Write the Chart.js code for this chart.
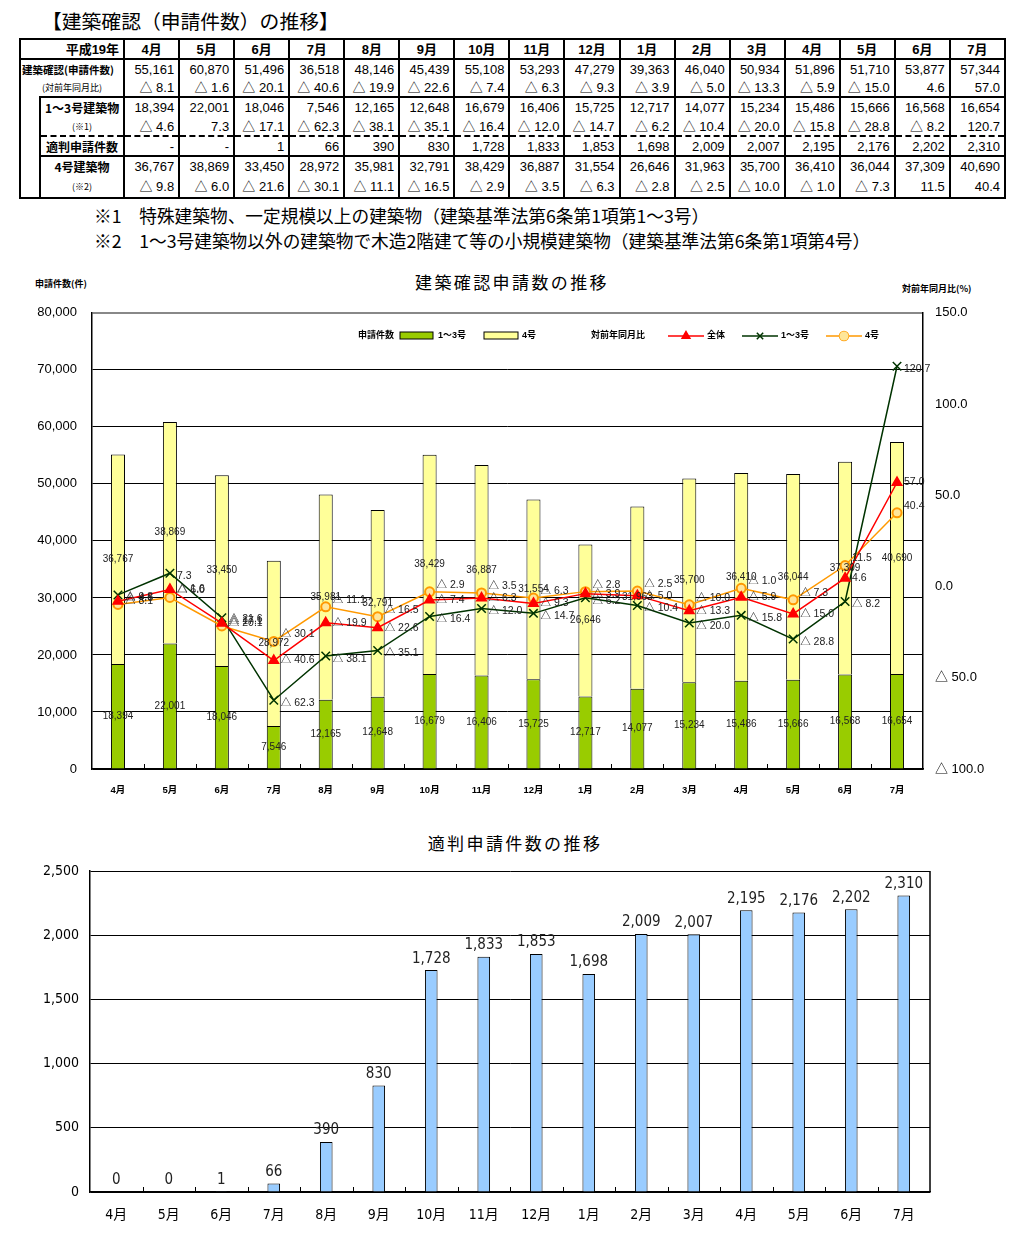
<!DOCTYPE html>
<html lang="ja">
<head>
<meta charset="utf-8">
<script src="https://cdn.jsdelivr.net/npm/chart.js"></script>
<style>
  body { margin: 0; background: #fff; font-family: "Liberation Sans", "Noto Sans CJK JP", sans-serif; }
  #page { position: relative; width: 1022px; height: 1245px; overflow: hidden; }
  .abs { position: absolute; white-space: nowrap; }
  #mainTitle { left: 42px; top: 9px; font-size: 19.8px; line-height: 24px; font-family: "Noto Sans CJK JP", sans-serif; }
  #tbl { position: absolute; left: 19px; top: 38px; width: 987px; border-collapse: collapse; table-layout: fixed; border: 2px solid #000; }
  #tbl td { padding: 0 4px; font-size: 13px; line-height: 15px; text-align: right; border-left: 2px solid #000; border-right: 2px solid #000; white-space: nowrap; overflow: hidden; }
  #tbl .hd td { font-weight: bold; text-align: center; border-bottom: 2px solid #000; }
  #tbl .hd td.yr { text-align: right; }
  #tbl td.lb { text-align: center; font-family: "Noto Sans CJK JP", sans-serif; font-weight: bold; font-size: 12px; padding: 0; }
  #tbl td.sm { font-size: 9px; font-weight: normal; }
  #tbl td.lb2 { font-size: 10.5px; text-align: left; padding-left: 1px; }
  #tbl .thick td { border-bottom: 2px solid #000; }
  #tbl .dash td { border-bottom: 2px dashed #000; }
  #tbl td.indent { border-top: hidden; }
  .note { left: 94px; font-size: 17.7px; line-height: 18px; font-family: "Noto Sans CJK JP", sans-serif; }
  .ctitle { font-family: "Noto Sans CJK JP", sans-serif; font-size: 17px; letter-spacing: 2.4px; transform: translateX(-50%); }
  .axlab { font-family: "Noto Sans CJK JP", sans-serif; font-size: 9px; font-weight: bold; }
  canvas { position: absolute; left: 0; }
</style>
</head>
<body>
<div id="page">
  <div id="mainTitle" class="abs">【建築確認（申請件数）の推移】</div>
  <table id="tbl"></table>
  <div class="abs note" style="top:206px">※1　特殊建築物、一定規模以上の建築物（建築基準法第6条第1項第1～3号）</div>
  <div class="abs note" style="top:231px">※2　1～3号建築物以外の建築物で木造2階建て等の小規模建築物（建築基準法第6条第1項第4号）</div>

  <div class="abs axlab" style="left:35px; top:277px">申請件数(件)</div>
  <div class="abs ctitle" style="left:512px; top:269px">建築確認申請数の推移</div>
  <div class="abs axlab" style="left:902px; top:282px">対前年同月比(%)</div>
  <canvas id="chart1" width="1022" height="510" style="top:290px"></canvas>

  <div class="abs ctitle" style="left:515px; top:830px">適判申請件数の推移</div>
  <canvas id="chart2" width="1022" height="390" style="top:850px"></canvas>
</div>
<script>
const months = ["4月", "5月", "6月", "7月", "8月", "9月", "10月", "11月", "12月", "1月", "2月", "3月", "4月", "5月", "6月", "7月"];
const totalApps = [55161, 60870, 51496, 36518, 48146, 45439, 55108, 53293, 47279, 39363, 46040, 50934, 51896, 51710, 53877, 57344];
const totalYoY = [-8.1, -1.6, -20.1, -40.6, -19.9, -22.6, -7.4, -6.3, -9.3, -3.9, -5.0, -13.3, -5.9, -15.0, 4.6, 57.0];
const class13 = [18394, 22001, 18046, 7546, 12165, 12648, 16679, 16406, 15725, 12717, 14077, 15234, 15486, 15666, 16568, 16654];
const class13YoY = [-4.6, 7.3, -17.1, -62.3, -38.1, -35.1, -16.4, -12.0, -14.7, -6.2, -10.4, -20.0, -15.8, -28.8, -8.2, 120.7];
const tekihan = [0, 0, 1, 66, 390, 830, 1728, 1833, 1853, 1698, 2009, 2007, 2195, 2176, 2202, 2310];
const class4 = [36767, 38869, 33450, 28972, 35981, 32791, 38429, 36887, 31554, 26646, 31963, 35700, 36410, 36044, 37309, 40690];
const class4YoY = [-9.8, -6.0, -21.6, -30.1, -11.1, -16.5, -2.9, -3.5, -6.3, -2.8, -2.5, -10.0, -1.0, -7.3, 11.5, 40.4];

const FONT = "'Liberation Sans', 'Noto Sans CJK JP', sans-serif";
const NARROW = "'Liberation Sans Narrow', 'DejaVu Sans Condensed', 'Noto Sans CJK JP', sans-serif";

function fmtNum(v) {
  return v.toLocaleString("en-US");
}
function fmtPct(v) {
  return v < 0 ? "△ " + Math.abs(v).toFixed(1) : v.toFixed(1);
}

// table
function buildTable() {
  const tbl = document.getElementById("tbl");
  let html = `<colgroup><col style="width:20px"><col style="width:84px">`;
  months.forEach(() => (html += `<col style="width:55px">`));
  html += `</colgroup>`;
  const cells = (arr, f) => arr.map((v) => `<td>${f(v)}</td>`).join("");

  html += `<tr class="hd" style="height:20px"><td colspan="2" class="yr">平成19年</td>${months.map((m) => `<td>${m}</td>`).join("")}</tr>`;
  html += `<tr style="height:19px"><td colspan="2" class="lb lb2">建築確認(申請件数)</td>${cells(totalApps, fmtNum)}</tr>`;
  html += `<tr class="thick" style="height:19px"><td colspan="2" class="lb sm">(対前年同月比)</td>${cells(totalYoY, fmtPct)}</tr>`;
  html += `<tr style="height:20px"><td rowspan="5" class="indent"></td><td class="lb">1～3号建築物</td>${cells(class13, fmtNum)}</tr>`;
  html += `<tr class="dash" style="height:19px"><td class="lb sm">(※1)</td>${cells(class13YoY, fmtPct)}</tr>`;
  html += `<tr class="thick" style="height:20px"><td class="lb">適判申請件数</td>${cells(tekihan, (v) => (v === 0 ? "-" : fmtNum(v)))}</tr>`;
  html += `<tr style="height:20px"><td class="lb">4号建築物</td>${cells(class4, fmtNum)}</tr>`;
  html += `<tr style="height:22px"><td class="lb sm">(※2)</td>${cells(class4YoY, fmtPct)}</tr>`;
  tbl.innerHTML = html;
}
buildTable();

// labels on bars and points
const valueLabels = {
  id: "valueLabels",
  afterDatasetsDraw(chart) {
    const c = chart.ctx;
    c.save();
    chart.data.datasets.forEach((ds, di) => {
      const meta = chart.getDatasetMeta(di);
      if (!ds.labelMode) return;
      meta.data.forEach((el, i) => {
        const v = ds.data[i];
        c.fillStyle = "#222";
        if (ds.labelMode === "center") {
          c.font = "10px " + FONT;
          c.textAlign = "center";
          c.textBaseline = "middle";
          c.fillText(fmtNum(v), el.x, (el.y + el.base) / 2);
        } else if (ds.labelMode === "top") {
          c.font = "15px " + NARROW;
          c.textAlign = "center";
          c.textBaseline = "bottom";
          c.fillText(fmtNum(v), el.x, el.y - 4);
        } else {
          c.font = "10.5px " + FONT;
          c.textAlign = "left";
          c.textBaseline = "middle";
          c.fillText(fmtPct(v), el.x + 7, el.y + (ds.labelDy || 0));
        }
      });
    });
    c.restore();
  },
};

// small tick marks between categories, pointing up into the plot
const categoryTicks = {
  id: "categoryTicks",
  afterDraw(chart) {
    const a = chart.chartArea;
    const n = chart.data.labels.length;
    const w = (a.right - a.left) / n;
    const c = chart.ctx;
    c.save();
    c.strokeStyle = "#000";
    c.lineWidth = 1;
    c.beginPath();
    for (let i = 1; i < n; i++) {
      const x = Math.round(a.left + w * i) + 0.5;
      c.moveTo(x, a.bottom);
      c.lineTo(x, a.bottom - 5);
    }
    c.stroke();
    c.restore();
  },
};

// legend inside the first chart
const innerLegend = {
  id: "innerLegend",
  afterDraw(chart) {
    const c = chart.ctx;
    const y = 46;
    c.save();
    c.font = "bold 9px " + FONT;
    c.fillStyle = "#000";
    c.textBaseline = "middle";
    c.textAlign = "left";
    c.fillText("申請件数", 358, y);
    c.fillStyle = "#99cc00";
    c.fillRect(400, y - 4, 33, 7);
    c.strokeStyle = "#000";
    c.lineWidth = 1;
    c.strokeRect(400, y - 4, 33, 7);
    c.fillStyle = "#000";
    c.fillText("1～3号", 438, y);
    c.fillStyle = "#ffff99";
    c.fillRect(484, y - 4, 34, 7);
    c.strokeRect(484, y - 4, 34, 7);
    c.fillStyle = "#000";
    c.fillText("4号", 522, y);
    c.fillText("対前年同月比", 591, y);
    const lines = [
      [668, "#ff0000", "triangle", "全体"],
      [742, "#003300", "crossRot", "1～3号"],
      [826, "#ff9900", "circle", "4号"],
    ];
    lines.forEach(([x, col, style, txt]) => {
      c.strokeStyle = col;
      c.lineWidth = 1.5;
      c.beginPath();
      c.moveTo(x, y);
      c.lineTo(x + 36, y);
      c.stroke();
      c.fillStyle = style === "circle" ? "#ffe699" : col;
      Chart.helpers.drawPoint(c, { pointStyle: style, radius: 4.5, borderWidth: 1.5, rotation: 0 }, x + 18, y);
      if (style !== "crossRot") c.fill();
      c.fillStyle = "#000";
      c.fillText(txt, x + 39, y);
    });
    c.restore();
  },
};

const lineDefaults = { type: "line", yAxisID: "y1", borderWidth: 1.5, pointRadius: 5, pointBorderWidth: 1.5, labelMode: "right", order: 1 };

new Chart(document.getElementById("chart1"), {
  type: "bar",
  data: {
    labels: months,
    datasets: [
      { ...lineDefaults, label: "全体", data: totalYoY, borderColor: "#ff0000", backgroundColor: "#ff0000", pointStyle: "triangle", pointRadius: 5.5, labelDy: 0 },
      { ...lineDefaults, label: "1～3号", data: class13YoY, borderColor: "#003300", backgroundColor: "#003300", pointStyle: "crossRot", pointRadius: 6, labelDy: 3 },
      { ...lineDefaults, label: "4号", data: class4YoY, borderColor: "#ff9900", backgroundColor: "#ffe699", pointStyle: "circle", pointRadius: 4.5, pointBorderWidth: 2, labelDy: -7 },
      { label: "1～3号", data: class13, backgroundColor: "#99cc00", borderColor: "#000", borderWidth: 1, barPercentage: 0.27, categoryPercentage: 1, labelMode: "center", order: 2 },
      { label: "4号", data: class4, backgroundColor: "#ffff99", borderColor: "#000", borderWidth: 1, barPercentage: 0.27, categoryPercentage: 1, labelMode: "center", order: 2 },
    ],
  },
  options: {
    responsive: false,
    animation: false,
    layout: { padding: { top: 2, left: 0, right: 0, bottom: 0 } },
    plugins: { legend: { display: false }, tooltip: { enabled: false } },
    scales: {
      x: {
        stacked: true,
        grid: { display: false },
        border: { color: "#000", width: 1.5 },
        ticks: { color: "#000", font: { size: 9.5, weight: "bold", family: FONT }, padding: 8 },
        afterFit(s) { s.height = 31; },
      },
      y: {
        stacked: true,
        min: 0,
        max: 80000,
        ticks: { stepSize: 10000, color: "#000", padding: 15, font: { size: 13, family: FONT }, callback: (v) => fmtNum(v) },
        grid: { color: (c) => (c.tick && c.tick.value === 80000 ? "#888" : "#000"), lineWidth: (c) => (c.tick && c.tick.value === 80000 ? 2 : 1), drawTicks: false },
        border: { color: "#000", width: 1.5 },
        afterFit(s) { s.width = 92; },
      },
      y1: {
        position: "right",
        min: -100,
        max: 150,
        ticks: { stepSize: 50, color: "#000", padding: 12, font: { size: 13, family: FONT }, callback: (v) => fmtPct(v) },
        grid: { drawOnChartArea: false, drawTicks: false },
        border: { color: "#000", width: 1.5 },
        afterFit(s) { s.width = 99; },
      },
    },
  },
  plugins: [valueLabels, innerLegend, categoryTicks],
});

new Chart(document.getElementById("chart2"), {
  type: "bar",
  data: {
    labels: months,
    datasets: [
      { label: "適判申請件数", data: tekihan, backgroundColor: "#99ccff", borderColor: "#000", borderWidth: 1, barPercentage: 0.24, categoryPercentage: 1, labelMode: "top" },
    ],
  },
  options: {
    responsive: false,
    animation: false,
    layout: { padding: { top: 21, left: 0, right: 92, bottom: 0 } },
    plugins: { legend: { display: false }, tooltip: { enabled: false } },
    scales: {
      x: {
        grid: { display: false },
        border: { color: "#000", width: 1.5 },
        ticks: { color: "#000", font: { size: 14, family: NARROW }, padding: 7 },
        afterFit(s) { s.height = 48; },
      },
      y: {
        min: 0,
        max: 2500,
        ticks: { stepSize: 500, color: "#000", padding: 11, font: { size: 14, family: NARROW }, callback: (v) => fmtNum(v) },
        grid: { color: "#000", drawTicks: false },
        border: { color: "#000", width: 1.5 },
        afterFit(s) { s.width = 90; },
      },
    },
  },
  plugins: [valueLabels, categoryTicks, {
    id: "frame",
    afterDraw(chart) {
      const a = chart.chartArea;
      chart.ctx.save();
      chart.ctx.strokeStyle = "#000";
      chart.ctx.lineWidth = 1.5;
      chart.ctx.beginPath();
      chart.ctx.moveTo(a.right, a.top);
      chart.ctx.lineTo(a.right, a.bottom);
      chart.ctx.stroke();
      chart.ctx.restore();
    },
  }],
});
</script>
</body>
</html>
